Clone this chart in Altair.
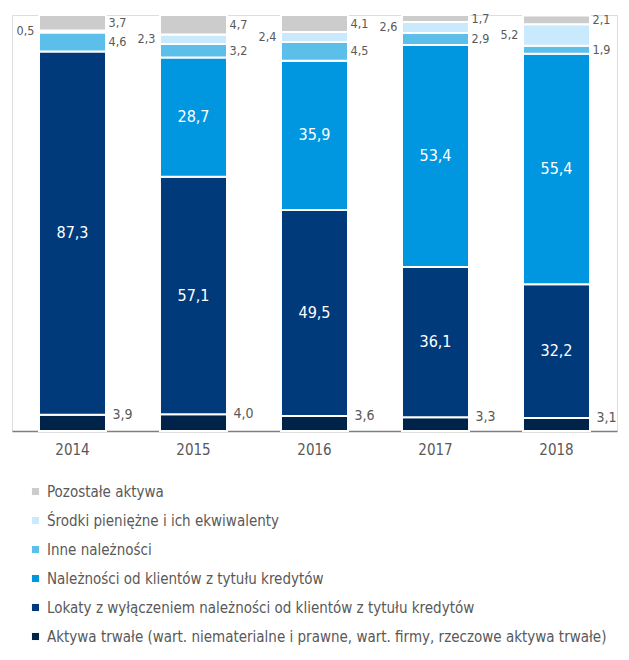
import altair as alt
import pandas as pd

years = ["2014", "2015", "2016", "2017", "2018"]
categories = [
    "Aktywa trwałe (wart. niematerialne i prawne, wart. firmy, rzeczowe aktywa trwałe)",
    "Lokaty z wyłączeniem należności od klientów z tytułu kredytów",
    "Należności od klientów z tytułu kredytów",
    "Inne należności",
    "Środki pieniężne i ich ekwiwalenty",
    "Pozostałe aktywa",
]
aktywa_trwale = [3.9, 4.0, 3.6, 3.3, 3.1]
lokaty = [87.3, 57.1, 49.5, 36.1, 32.2]
naleznosci_kredyty = [0.0, 28.7, 35.9, 53.4, 55.4]
inne_naleznosci = [4.6, 3.2, 4.5, 2.9, 1.9]
srodki = [0.5, 2.3, 2.4, 2.6, 5.2]
pozostale = [3.7, 4.7, 4.1, 1.7, 2.1]

colors = ["#00234a", "#003a7a", "#0096e0", "#5bbfea", "#c8eafc", "#cccccc"]
label_pos = ["right_bottom", "inside", "inside", "right", "left", "right"]

series = [aktywa_trwale, lokaty, naleznosci_kredyty, inne_naleznosci, srodki, pozostale]
rows = []
for ci, (cat, vals) in enumerate(zip(categories, series)):
    for yi, yr in enumerate(years):
        rows.append({"year": yr, "cat": cat, "value": vals[yi], "order": ci, "pos": label_pos[ci]})
df = pd.DataFrame(rows)

legend_order = list(reversed(categories))
legend_colors = list(reversed(colors))

FONT = "DejaVu Sans Condensed"
GREY = "#595959"

base = alt.Chart(df).transform_filter("datum.value > 0").transform_stack(
    stack="value", as_=["y0", "y1"], groupby=["year"], sort=[{"field": "order", "order": "ascending"}]
).transform_calculate(
    mid="(datum.y0 + datum.y1) / 2",
    lbl="replace(format(datum.value, '.1f'), '.', ',')",
)

xenc = alt.X("year:N", sort=years, title=None,
             scale=alt.Scale(paddingInner=0.446, paddingOuter=0.223),
             axis=alt.Axis(labelAngle=0, labelFont=FONT, labelFontSize=15, labelColor=GREY,
                           ticks=False, domainColor="#7f7f7f", domainWidth=1.5, labelPadding=11))
yscale = alt.Scale(domain=[0, 100], nice=False, zero=True)

bars = base.mark_bar(stroke="white", strokeWidth=2).encode(
    x=xenc,
    y=alt.Y("y0:Q", scale=yscale, axis=None),
    y2="y1:Q",
    color=alt.Color("cat:N", scale=alt.Scale(domain=legend_order, range=legend_colors),
                    legend=alt.Legend(title=None, orient="none", legendX=16, legendY=469,
                                      direction="vertical", symbolType="square", symbolSize=50,
                                      labelFont=FONT, labelFontSize=15, labelColor=GREY,
                                      labelLimit=700, rowPadding=13, symbolStrokeWidth=0)),
)

inside = base.transform_filter("datum.pos == 'inside'").mark_text(
    color="white", font=FONT, fontSize=16, baseline="middle"
).encode(x=alt.X("year:N", sort=years), y=alt.Y("mid:Q", scale=yscale), text="lbl:N")

right = base.transform_filter("datum.pos == 'right'").mark_text(
    color=GREY, font=FONT, fontSize=12.5, baseline="middle", align="left", dx=36
).encode(x=alt.X("year:N", sort=years), y=alt.Y("mid:Q", scale=yscale), text="lbl:N")

right_bottom = base.transform_filter("datum.pos == 'right_bottom'").mark_text(
    color=GREY, font=FONT, fontSize=14, baseline="middle", align="left", dx=40
).encode(x=alt.X("year:N", sort=years), y=alt.Y("y1:Q", scale=yscale), text="lbl:N")

left = base.transform_filter("datum.pos == 'left'").mark_text(
    color=GREY, font=FONT, fontSize=12.5, baseline="middle", align="right", dx=-38
).encode(x=alt.X("year:N", sort=years), y=alt.Y("mid:Q", scale=yscale), text="lbl:N")

chart = alt.layer(bars, inside, right, right_bottom, left).properties(
    width=605, height=416,
    autosize=alt.AutoSizeParams(type="none"),
    padding={"left": 4, "top": 7, "right": 4, "bottom": 221},
).configure_view(stroke=None).configure(background="white")

chart.save("out.html", embed_options={"renderer": "svg", "actions": False})
